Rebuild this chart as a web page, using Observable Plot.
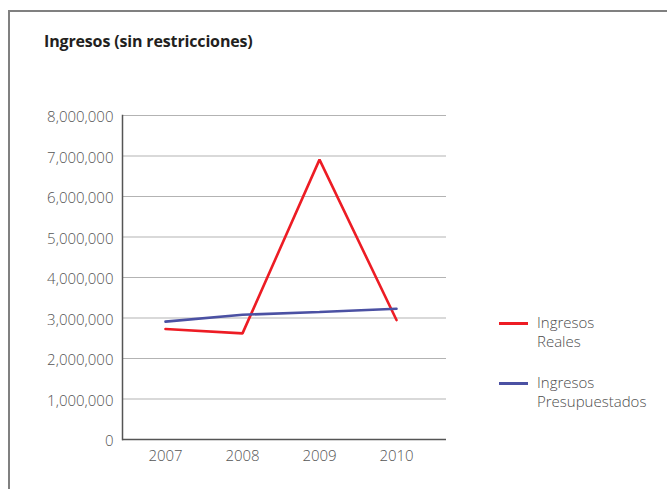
<!DOCTYPE html>
<html>
<head>
<meta charset="utf-8">
<script src="https://cdn.jsdelivr.net/npm/d3@7"></script>
<script src="https://cdn.jsdelivr.net/npm/@observablehq/plot@0.6"></script>
<style>
  body { margin: 0; background: #fff; }
  #wrap { position: relative; width: 667px; height: 489px; overflow: hidden; font-family: "Open Sans", sans-serif; }
  #box { position: absolute; left: 8px; top: 10px; width: 700px; height: 520px; border: 2px solid #808080; box-sizing: border-box; }
  #title { position: absolute; left: 44px; top: 31px; margin: 0; font-size: 16px; font-weight: 700; color: #231f20; letter-spacing: -0.15px; line-height: 20px; }
  #chart { position: absolute; left: 0; top: 0; }
  .legend { position: absolute; left: 499px; top: 0; font-size: 15px; color: #4d4d4d; font-weight: 300; }
  .legend .swatch { position: absolute; left: 0; width: 29px; height: 3px; }
  .legend .line { position: absolute; left: 38px; white-space: nowrap; line-height: 19px; height: 19px; }
</style>
</head>
<body>
<div id="wrap">
  <div id="box"></div>
  <h2 id="title">Ingresos (sin restricciones)</h2>
  <div id="chart"></div>
  <div class="legend" id="legend"></div>
</div>
<script>
// Años y series de ingresos
const years = ["2007", "2008", "2009", "2010"];
const reales = [2730000, 2620000, 6910000, 2950000];
const presupuestados = [2910000, 3080000, 3150000, 3230000];
const seriesNames = ["Ingresos Reales", "Ingresos Presupuestados"];
const seriesColors = ["#ed1c24", "#4b51a3"];
const yTicks = [0, 1000000, 2000000, 3000000, 4000000, 5000000, 6000000, 7000000, 8000000];

const rows = [
  ...years.map((year, i) => ({year, value: reales[i], serie: seriesNames[0]})),
  ...years.map((year, i) => ({year, value: presupuestados[i], serie: seriesNames[1]}))
];

const chart = Plot.plot({
  width: 667,
  height: 489,
  marginLeft: 122,
  marginRight: 221,
  marginTop: 115,
  marginBottom: 50,
  style: {fontFamily: "'Open Sans', sans-serif", fontSize: "15px", fontWeight: 300, background: "transparent"},
  x: {type: "point", domain: years, padding: 0, insetLeft: 42, insetRight: 50, label: null},
  y: {domain: [0, 8000000], label: null},
  color: {domain: seriesNames, range: seriesColors},
  marks: [
    Plot.ruleY(yTicks.filter(d => d > 0), {stroke: "#b3b3b3", strokeWidth: 1.2}),
    Plot.line(rows, {x: "year", y: "value", z: "serie", stroke: "serie", strokeWidth: 2.6, strokeLinejoin: "miter"}),
    Plot.ruleY([0], {stroke: "#555", strokeWidth: 1.5}),
    Plot.frame({anchor: "left", stroke: "#555", strokeWidth: 1.5}),
    Plot.axisY({ticks: yTicks, tickFormat: d3.format(","), tickSize: 0, tickPadding: 9, fill: "#555", fontSize: 15, dy: 2, label: null}),
    Plot.axisX({tickSize: 0, tickPadding: 11, fill: "#555", fontSize: 15, label: null})
  ]
});
document.getElementById("chart").appendChild(chart);

// Leyenda: muestra de color y etiqueta en dos líneas
const legend = document.getElementById("legend");
const legendTops = [313, 373];
seriesNames.forEach((name, i) => {
  const top = legendTops[i];
  const sw = document.createElement("div");
  sw.className = "swatch";
  sw.style.background = seriesColors[i];
  sw.style.top = (top + 9) + "px";
  legend.appendChild(sw);
  const parts = [name.split(" ")[0], name.split(" ").slice(1).join(" ")];
  parts.forEach((text, j) => {
    const line = document.createElement("div");
    line.className = "line";
    line.style.top = (top + j * 19) + "px";
    line.textContent = text;
    legend.appendChild(line);
  });
});
</script>
</body>
</html>
